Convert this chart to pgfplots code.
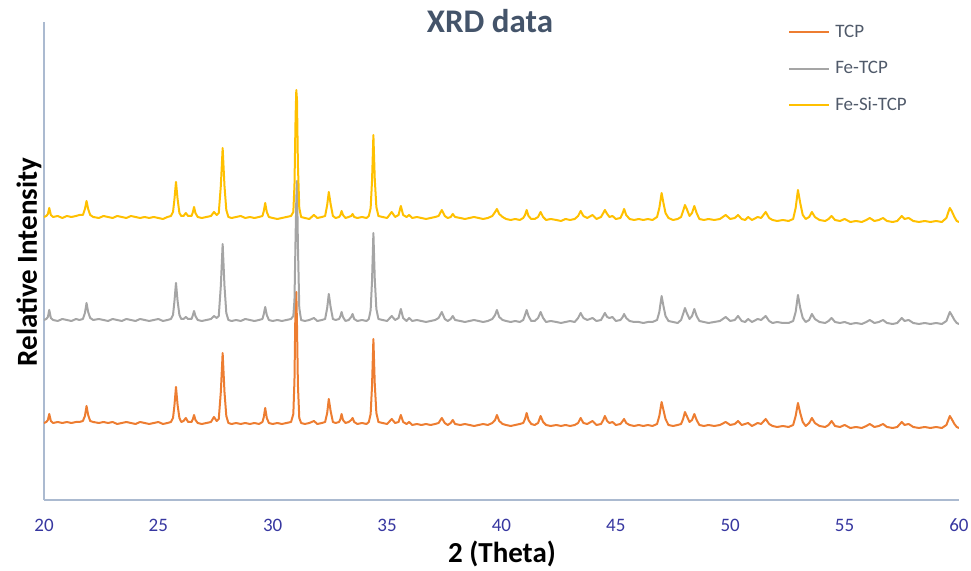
\documentclass[border=0pt]{standalone}
\usepackage{fontspec}
\setmainfont{Carlito}
\usepackage{pgfplots}
\usepackage{pgfplotstable}
\pgfplotsset{compat=1.18}
\definecolor{cT}{HTML}{ED7D31}
\definecolor{cF}{HTML}{A5A5A5}
\definecolor{cS}{HTML}{FFC000}
\definecolor{ttl}{HTML}{44546A}
\definecolor{tick}{RGB}{55,55,160}
\definecolor{axl}{HTML}{ABBAD0}
\definecolor{leg}{HTML}{505A6A}
\pgfplotstableread{
x T F S
20.00 77 180 283
20.10 78 181 284
20.17 80 183 286
20.23 86 190 292
20.30 79 182 285
20.40 77 180 283
20.60 78 179 284
20.80 77 181 282
21.00 78 180 284
21.20 77 179 283
21.40 78 181 284
21.55 78 180 285
21.70 79 181 285
21.79 84 187 291
21.86 94 197 299
21.93 85 188 291
22.02 79 182 285
22.15 78 180 283
22.40 77 181 282
22.60 78 180 284
22.80 77 179 283
23.00 78 181 282
23.20 76 180 284
23.40 77 179 283
23.60 78 181 282
23.80 77 180 284
24.00 76 179 283
24.20 78 181 282
24.40 77 180 283
24.60 76 179 282
24.80 77 180 283
25.00 78 181 282
25.20 76 179 281
25.40 77 180 283
25.55 78 181 284
25.64 82 185 288
25.70 94 198 300
25.77 113 217 318
25.84 95 199 301
25.92 82 185 287
26.00 78 181 284
26.10 79 181 284
26.20 82 183 287
26.30 78 181 284
26.45 78 181 284
26.51 81 185 288
26.56 85 189 293
26.62 80 184 287
26.72 77 180 283
26.90 76 179 282
27.10 77 180 283
27.30 78 181 284
27.43 83 184 288
27.55 79 182 285
27.64 81 184 287
27.73 108 214 314
27.81 147 256 352
27.89 108 214 314
27.97 84 187 290
28.06 77 180 283
28.20 76 179 282
28.40 77 180 283
28.60 76 179 284
28.80 77 181 282
29.00 76 180 283
29.20 77 179 282
29.40 76 180 283
29.55 78 181 284
29.61 83 186 289
29.67 92 193 297
29.74 82 185 288
29.83 77 180 283
30.00 76 179 282
30.20 77 180 281
30.40 76 179 282
30.60 77 180 283
30.80 78 181 284
30.90 86 184 288
30.95 120 200 315
31.00 205 265 385
31.03 208 300 410
31.06 175 319 400
31.10 115 255 335
31.16 82 192 292
31.24 77 180 283
31.40 76 179 282
31.60 77 180 281
31.80 79 182 285
31.95 76 179 282
32.15 77 180 283
32.29 78 181 284
32.38 87 192 295
32.45 101 206 308
32.53 89 193 296
32.63 78 181 284
32.75 77 180 282
32.90 78 181 283
32.96 81 184 285
33.01 86 188 289
33.07 80 183 285
33.18 77 179 282
33.32 78 180 283
33.43 80 183 284
33.49 82 186 286
33.56 78 181 283
33.70 76 179 282
33.90 77 180 283
34.10 76 179 282
34.20 78 181 284
34.28 86 190 292
34.34 114 219 319
34.40 161 267 365
34.46 116 221 321
34.53 87 191 293
34.62 78 181 284
34.80 77 180 283
35.00 76 179 282
35.20 81 184 288
35.35 77 180 283
35.50 78 182 285
35.60 85 191 294
35.70 78 182 285
35.85 76 179 283
35.96 78 182 285
36.10 75 179 282
36.30 76 180 283
36.50 75 179 282
36.70 76 178 281
36.90 75 179 282
37.10 76 180 283
37.25 77 182 284
37.39 82 188 290
37.52 77 181 284
37.65 75 179 282
37.78 77 181 283
37.87 80 184 286
37.97 76 180 283
38.20 75 179 282
38.40 76 178 281
38.60 75 179 282
38.80 74 180 283
39.00 75 179 282
39.20 76 178 281
39.40 75 179 282
39.60 77 181 284
39.72 80 185 288
39.80 85 190 291
39.90 79 183 286
40.05 76 180 283
40.20 75 179 281
40.40 74 178 280
40.60 75 179 281
40.80 76 178 280
40.95 77 180 282
41.03 81 185 285
41.10 87 190 290
41.18 80 184 284
41.30 76 179 281
41.45 75 179 281
41.60 77 182 283
41.71 84 188 288
41.82 78 182 283
41.95 75 178 280
42.15 74 179 281
42.40 75 178 280
42.60 74 177 279
42.80 75 178 281
43.00 74 179 280
43.20 75 178 281
43.35 77 182 284
43.46 82 187 289
43.58 77 182 284
43.75 76 180 282
43.98 79 182 285
44.15 75 179 281
44.35 76 180 283
44.45 80 184 287
44.52 84 187 290
44.62 79 183 286
44.72 77 182 283
44.85 78 183 284
45.00 75 179 281
45.20 76 180 282
45.30 79 183 287
45.36 81 186 291
45.45 77 182 285
45.60 75 179 281
45.80 74 178 280
46.00 75 178 281
46.20 74 177 280
46.40 75 178 281
46.60 74 178 280
46.80 76 180 283
46.90 84 188 292
47.00 98 204 307
47.08 90 194 297
47.17 81 184 287
47.30 75 179 282
47.50 74 178 280
47.70 75 177 281
47.85 76 180 283
47.94 81 186 289
48.02 88 192 295
48.10 84 187 291
48.22 78 181 284
48.33 80 184 287
48.43 86 191 294
48.53 80 184 287
48.65 75 179 281
48.85 74 178 280
49.05 75 177 281
49.30 74 178 280
49.55 75 179 281
49.80 78 183 285
50.00 75 179 281
50.20 76 180 282
50.34 79 184 285
50.50 75 179 281
50.65 76 178 280
50.78 77 181 283
50.95 74 178 280
51.20 77 181 283
51.35 76 180 282
51.55 81 184 288
51.70 76 179 282
51.85 74 177 280
52.05 73 178 279
52.30 74 177 280
52.55 73 177 279
52.75 75 179 281
52.86 84 188 292
52.96 97 205 310
53.06 87 192 297
53.17 78 182 285
53.30 74 178 281
53.45 77 180 283
53.57 82 186 288
53.70 77 181 283
53.90 74 178 280
54.15 73 177 279
54.30 75 179 281
54.43 79 182 284
54.58 74 178 280
54.80 73 177 279
55.00 75 178 281
55.25 72 176 278
55.50 73 177 279
55.75 72 176 278
55.95 74 178 280
56.10 76 180 282
56.30 73 177 279
56.50 74 178 280
56.68 76 180 282
56.85 73 177 279
57.10 72 176 278
57.30 73 177 279
57.42 76 180 282
57.50 78 182 284
57.62 75 179 281
57.80 76 180 282
58.00 73 177 279
58.25 72 176 278
58.50 73 177 279
58.75 72 176 278
59.00 73 177 279
59.25 72 176 278
59.45 75 179 282
59.55 81 185 289
59.60 84 188 292
59.68 81 185 289
59.80 76 180 283
59.90 73 177 279
60.00 72 176 278
}\xrd
\begin{document}
\begin{tikzpicture}
\useasboundingbox (0,0) rectangle (485.5pt,285.5pt);
\begin{axis}[
  at={(22pt,35.5pt)}, anchor=south west,
  scale only axis, width=457.5pt, height=239pt,
  xmin=20, xmax=60, ymin=0, ymax=478,
  axis x line=bottom, axis y line=left,
  axis line style={draw=axl, line width=0.9pt, -},
  xtick={20,25,...,60}, ytick=\empty,
  major tick length=0pt,
  /pgf/number format/assume math mode=true,
  xticklabel style={font=\fontsize{9.5}{11}\selectfont, text=tick, anchor=base, yshift=-16pt},
  xlabel={2 (Theta)},
  xlabel style={at={(0.5005,0)}, anchor=base, yshift=-31.5pt, font=\fontsize{14.5}{17}\selectfont\bfseries},
  legend style={at={(0.813,0.998)}, anchor=north west, draw=none, fill=none, inner sep=0pt,
    font=\fontsize{9.5}{11}\selectfont, text=leg, row sep=9.25pt,
    nodes={inner sep=0pt, text height=7pt, text depth=2pt}},
  legend cell align=left,
  legend image code/.code={\draw[#1, line width=1pt] (0pt,0pt) -- (20pt,0pt);},
  every axis plot/.append style={line width=1pt, line join=round},
]
\addplot[cT, no marks] table[x=x, y=T] {\xrd};
\addlegendentry{\hspace{2.5pt}TCP}
\addplot[cF, no marks] table[x=x, y=F] {\xrd};
\addlegendentry{\hspace{2.5pt}Fe-TCP}
\addplot[cS, no marks] table[x=x, y=S] {\xrd};
\addlegendentry{\hspace{2.5pt}Fe-Si-TCP}
\end{axis}
\node[anchor=base, text=ttl, font=\fontsize{16.5}{19}\selectfont\bfseries] at (245pt,269pt) {XRD data};
\node[rotate=90, anchor=base, font=\fontsize{14.5}{17}\selectfont\bfseries] at (18.5pt,154.5pt) {Relative Intensity};
\end{tikzpicture}
\end{document}
